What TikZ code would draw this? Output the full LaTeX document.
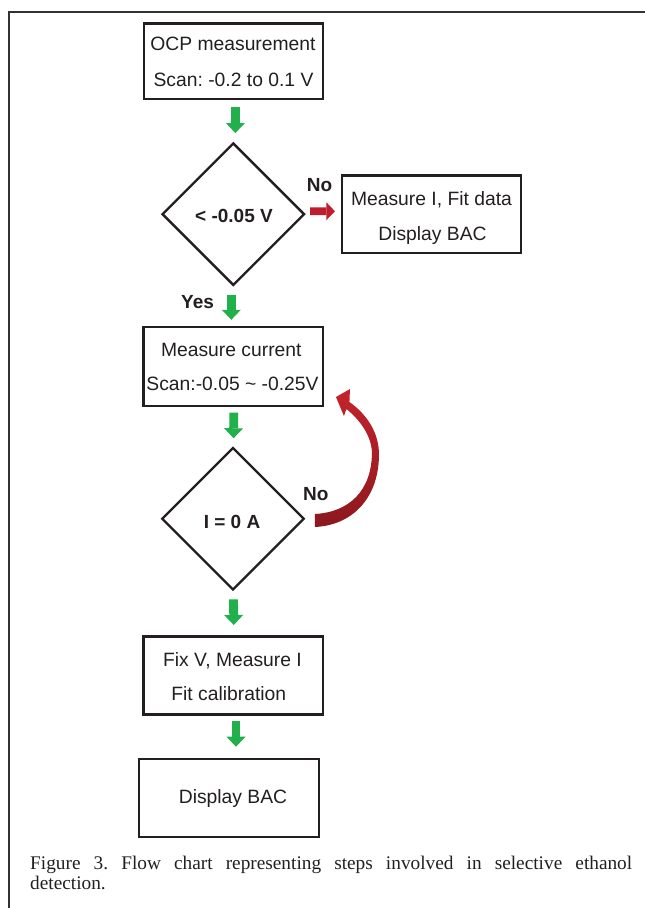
\documentclass[tikz,border=0pt]{standalone}
\usepackage{fontspec}
\setmainfont{Liberation Serif}
\newfontfamily\arialfont{Liberation Sans}
\usetikzlibrary{shapes.geometric,arrows.meta}

\definecolor{ink}{RGB}{35,31,32}
\definecolor{flowgreen}{RGB}{33,176,76}
\definecolor{flowred}{RGB}{190,30,45}
\definecolor{loopred}{RGB}{196,36,44}
\definecolor{loopdark}{RGB}{140,24,30}
\definecolor{framegray}{RGB}{50,50,50}

\begin{document}
\frenchspacing
\begin{tikzpicture}[x=1pt,y=-1pt,
  box/.style={draw=ink,line width=2.4pt,minimum width=179.5pt,minimum height=77.5pt,inner sep=0pt},
  decision/.style={draw=ink,line width=2.4pt,diamond,aspect=1,minimum width=142.5pt,minimum height=142.5pt,inner sep=0pt},
  txt/.style={font=\arialfont\fontsize{19.3}{23}\selectfont,text=ink,anchor=base,inner sep=0pt},
  btxt/.style={font=\arialfont\bfseries\fontsize{19}{22}\selectfont,text=ink,anchor=base,inner sep=0pt},
  capline/.style={font=\fontsize{19.3}{21}\selectfont,text=ink,anchor=base west,inner sep=0pt},
  gostep/.style={draw=flowgreen,line width=8.8pt,-{Triangle[line width=0pt,length=10pt,width=19pt]}},
  nostep/.style={draw=flowred,line width=7.7pt,-{Triangle[line width=0pt,length=8.5pt,width=17.7pt]}}
]
\useasboundingbox (0,0) rectangle (645,908);

% outer frame (left and top rules)
\draw[framegray,line width=1.7pt] (9.2,908) -- (9.2,11.8) -- (645,11.8);

% process boxes and decisions
\node[box,minimum height=75.5pt] (b1) at (233.5,61.2) {};
\node[decision] (d1) at (233.3,214.2) {};
\node[box] (b2) at (431.5,214.3) {};
\node[box,minimum height=79pt] (b3) at (233.3,366.5) {};
\node[decision] (d2) at (233,518.7) {};
\node[box,minimum height=78pt] (b4) at (233.3,675.3) {};
\node[box,minimum width=180pt,minimum height=78pt] (b5) at (228.8,798) {};

% box texts
\node[txt] (b1a) at (233,50.7) {OCP measurement};
\node[txt] (b1b) at (233.5,86) {Scan: -0.2 to 0.1 V};
\node[txt] (b2a) at (431.5,205.7) {Measure I, Fit data};
\node[txt] (b2b) at (432.5,240) {Display BAC};
\node[txt] (b3a) at (231.3,356.7) {Measure current};
\node[txt] (b3b) at (232.5,390.7) {Scan:-0.05 \textasciitilde{} -0.25V};
\node[txt] (b4a) at (232.5,666) {Fix V, Measure I};
\node[txt] (b4b) at (228.8,700) {Fit calibration};
\node[txt] (b5a) at (233,803.3) {Display BAC};

% decision texts and branch labels
\node[btxt] (d1t) at (234,222.7) {< -0.05 V};
\node[btxt] (d2t) at (232,528.3) {I = 0 A};
\node[btxt] (no1) at (319.5,191.7) {No};
\node[btxt] (yes1) at (197.5,308.3) {Yes};
\node[btxt] (no2) at (315.8,500) {No};

% green flow arrows
\draw[gostep,shorten <=7pt,shorten >=8.7pt] ([xshift=2pt]b1.south) -- ([xshift=2pt]d1.north);
\draw[gostep,shorten <=8pt,shorten >=6pt] ([xshift=-2pt]d1.south) -- ([xshift=-2pt]b3.north);
\draw[gostep,shorten <=5.5pt,shorten >=8pt] ([xshift=0.5pt]b3.south) -- ([xshift=0.5pt]d2.north);
\draw[gostep,shorten <=8.2pt,shorten >=10.1pt] ([xshift=0.5pt]d2.south) -- ([xshift=0.5pt]b4.north);
\coordinate (a5s) at ([xshift=2.7pt]b4.south);
\coordinate (a5e) at (a5s |- b5.north);
\draw[gostep,shorten <=5.5pt,shorten >=11.1pt] (a5s) -- (a5e);

% red "No" arrow to the side box
\draw[nostep,shorten <=4.3pt,shorten >=5.6pt] ([yshift=3pt]d1.east) -- ([yshift=3pt]b2.west);

% curved red loop back to the current scan
\coordinate (looptail) at ([shift={(9.5,1.3)}]d2.east);
\begin{scope}[shift={(looptail)}]
  \shade[top color=loopred,bottom color=loopdark]
    (0,7) .. controls (40,5) and (65,-25) .. (64,-68)
    .. controls (63,-90) and (50,-107) .. (34.5,-118)
    -- (35,-131) -- (21,-123) -- (29,-104) -- (31.5,-111)
    .. controls (45,-100) and (56,-85) .. (57,-68)
    .. controls (57,-30) and (35,-8) .. (0,-6) -- cycle;
\end{scope}

% caption
\node[capline] (cap1) at (30,869) {\makebox[602pt][s]{Figure 3. Flow chart representing steps involved in selective ethanol}};
\node[capline] (cap2) at (30,889.5) {detection.};
\end{tikzpicture}
\end{document}
